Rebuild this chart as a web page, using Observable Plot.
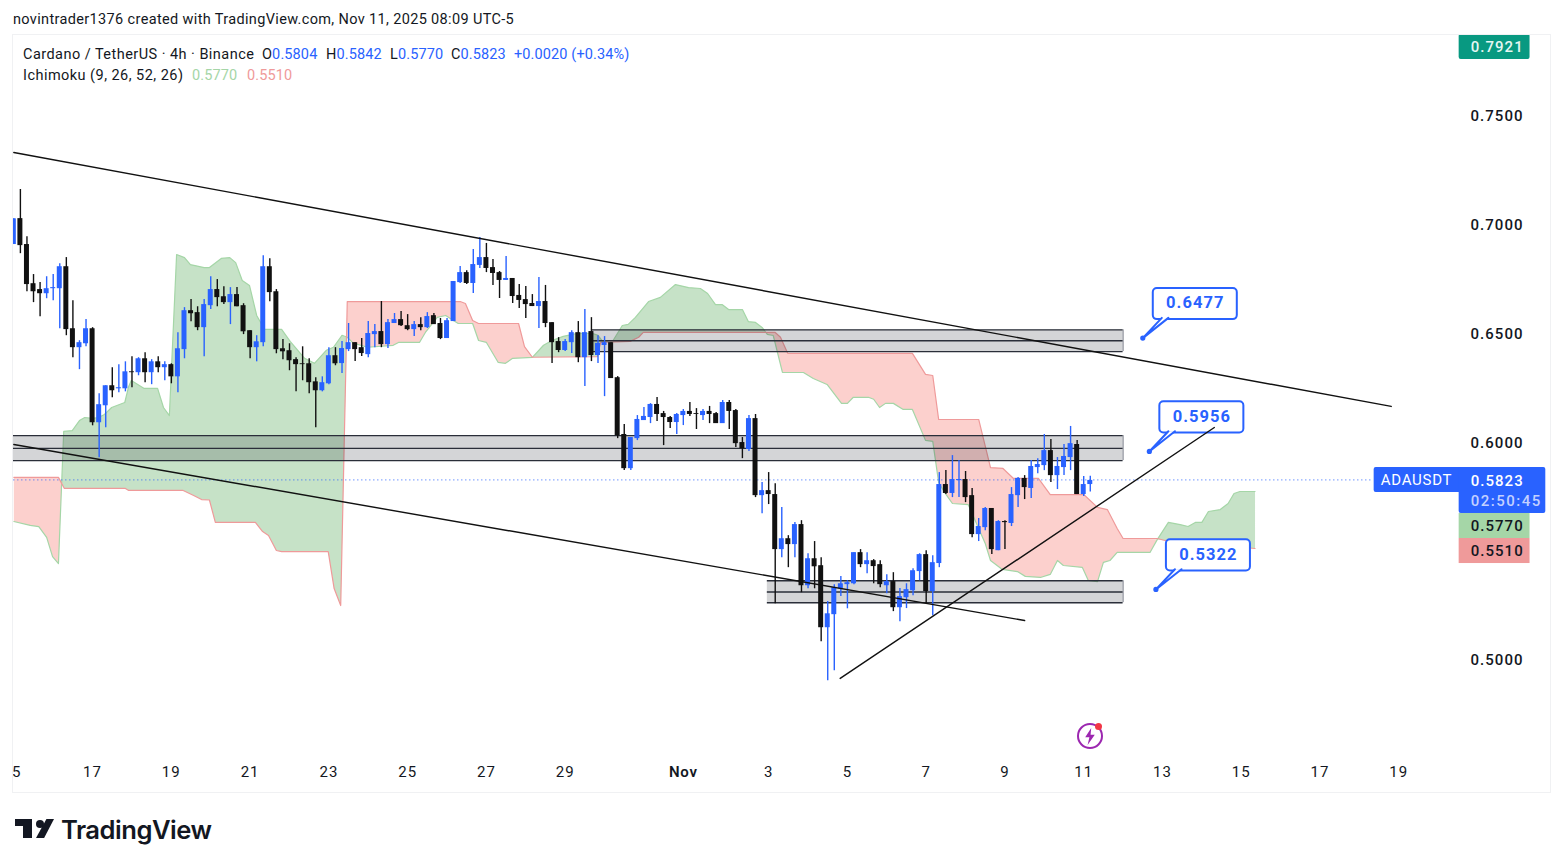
<!DOCTYPE html>
<html>
<head>
<meta charset="utf-8">
<script src="https://cdn.jsdelivr.net/npm/d3@7"></script>
<script src="https://cdn.jsdelivr.net/npm/@observablehq/plot@0.6"></script>
<style>
html,body{margin:0;padding:0;background:#fff;width:1563px;height:867px;overflow:hidden;font-family:Roboto,sans-serif;color:#131722}
#frame{position:absolute;left:12px;top:34px;width:1537px;height:757px;border:1px solid #f0f1f3}
#chart{position:absolute;left:13px;top:35px}
.t{position:absolute;white-space:nowrap;font-size:14.5px;line-height:18px;letter-spacing:.12px}
.w{letter-spacing:.46px}
.h{letter-spacing:.35px}
.b{color:#2962ff}
#logoText{position:absolute;left:61px;top:814px;font:600 25.6px/32px Inter,Roboto,sans-serif;letter-spacing:-.5px;color:#131722}
.lg{position:absolute;background:#131722}
</style>
</head>
<body>
<div id="frame"></div>
<div class="t h" style="left:13px;top:11px">novintrader1376 created with TradingView.com, Nov 11, 2025 08:09 UTC-5</div>
<div class="t w" style="left:23px;top:46px">Cardano / TetherUS · 4h · Binance</div>
<div class="t" style="left:262px;top:46px">O<span class="b">0.5804</span></div>
<div class="t" style="left:326px;top:46px">H<span class="b">0.5842</span></div>
<div class="t" style="left:390px;top:46px">L<span class="b">0.5770</span></div>
<div class="t" style="left:451px;top:46px">C<span class="b">0.5823</span></div>
<div class="t b" style="left:514px;top:46px">+0.0020 (+0.34%)</div>
<div class="t w" style="left:23px;top:67px">Ichimoku (9, 26, 52, 26)</div>
<div class="t" style="left:192px;top:67px;color:#a5d6a7">0.5770</div>
<div class="t" style="left:247px;top:67px;color:#ef9a9a">0.5510</div>
<div id="chart"></div>
<div class="lg" style="left:15px;top:819px;width:17px;height:7px"></div>
<div class="lg" style="left:23px;top:819px;width:9px;height:19px"></div>
<div class="lg" style="left:36px;top:819.5px;width:8px;height:8px;border-radius:50%"></div>
<div class="lg" style="left:36px;top:819px;width:18px;height:19px;clip-path:polygon(58% 0,100% 0,45% 100%,0 100%)"></div>
<div id="logoText">TradingView</div>
<div style="position:absolute;left:1077px;top:723px;width:22px;height:22px;border:2px solid #9c27b0;border-radius:50%"></div>
<div style="position:absolute;left:1084px;top:728px;width:12px;height:17px;background:#9c27b0;clip-path:polygon(60% 0,10% 55%,45% 55%,30% 100%,90% 40%,55% 40%)"></div>
<div style="position:absolute;left:1095px;top:723px;width:7px;height:7px;background:#f23645;border-radius:50%"></div>
<script>
const opens=[.6907,.7026,.6907,.6727,.6700,.6681,.6704,.6704,.6805,.6520,
.6433,.6451,.6520,.6088,.6166,.6258,.6244,.6244,.6322,.6318,
.6382,.6318,.6368,.6341,.6355,.6299,.6424,.6603,.6594,.6525,
.6626,.6700,.6667,.6640,.6677,.6626,.6511,.6433,.6456,.6805,
.6690,.6428,.6419,.6378,.6359,.6359,.6276,.6235,.6267,.6396,
.6360,.6424,.6456,.6433,.6401,.6493,.6507,.6447,.6544,.6562,
.6534,.6516,.6539,.6525,.6580,.6544,.6475,.6553,.6732,.6778,
.6728,.6811,.6847,.6801,.6778,.6742,.6751,.6673,.6654,.6636,
.6622,.6645,.6548,.6461,.6420,.6456,.6502,.6387,.6507,.6397,
.6443,.6456,.6295,.6034,.5877,.6015,.6098,.6112,.6172,.6130,
.6112,.6089,.6121,.6140,.6130,.6121,.6140,.6130,.6084,.6181,
.6144,.5997,.5965,.6107,.5753,.5776,.5758,.5505,.5555,.5528,
.5620,.5339,.5463,.5431,.5146,.5206,.5325,.5344,.5348,.5491,
.5436,.5454,.5436,.5339,.5358,.5238,.5284,.5316,.5404,.5482,
.5312,.5441,.5804,.5763,.5822,.5827,.5753,.5574,.5606,.5694,
.5500,.5634,.5625,.5753,.5832,.5786,.5882,.5891,.5960,.5845,
.5882,.5928,.5988,.5758,.5804];
const closes=[.7025,.6902,.6723,.6690,.6681,.6704,.6709,.6805,.6516,.6433,
.6456,.6520,.6088,.6171,.6258,.6235,.6249,.6322,.6318,.6382,
.6318,.6368,.6341,.6355,.6299,.6428,.6603,.6589,.6525,.6631,
.6700,.6663,.6640,.6677,.6621,.6506,.6433,.6460,.6805,.6686,
.6424,.6414,.6373,.6355,.6355,.6272,.6235,.6272,.6396,.6359,
.6429,.6456,.6424,.6406,.6498,.6507,.6447,.6548,.6562,.6534,
.6516,.6539,.6525,.6576,.6539,.6475,.6557,.6737,.6778,.6728,
.6815,.6847,.6797,.6774,.6742,.6751,.6668,.6650,.6631,.6622,
.6645,.6544,.6456,.6420,.6461,.6502,.6387,.6502,.6397,.6452,
.6456,.6291,.6028,.5877,.6020,.6103,.6117,.6172,.6126,.6112,
.6089,.6126,.6140,.6126,.6126,.6140,.6126,.6084,.6181,.6140,
.5992,.5969,.6107,.5753,.5776,.5758,.5505,.5555,.5528,.5620,
.5339,.5463,.5426,.5146,.5210,.5330,.5348,.5353,.5491,.5436,
.5454,.5427,.5344,.5358,.5238,.5289,.5321,.5408,.5482,.5312,
.5445,.5804,.5763,.5827,.5827,.5744,.5574,.5611,.5694,.5505,
.5634,.5629,.5758,.5832,.5790,.5887,.5896,.5960,.5845,.5887,
.5933,.5992,.5758,.5804,.5823];
const highs=[.7025,.7160,.6943,.6769,.6732,.6759,.6769,.6819,.6847,.6649,
.6465,.6562,.6525,.6221,.6258,.6341,.6355,.6368,.6391,.6387,
.6410,.6378,.6391,.6368,.6359,.6502,.6617,.6654,.6621,.6654,
.6759,.6746,.6713,.6709,.6709,.6635,.6511,.6488,.6856,.6842,
.6700,.6470,.6451,.6387,.6437,.6382,.6295,.6299,.6433,.6433,
.6461,.6544,.6456,.6475,.6553,.6539,.6645,.6562,.6590,.6599,
.6585,.6553,.6571,.6594,.6590,.6567,.6567,.6737,.6806,.6787,
.6884,.6939,.6912,.6838,.6783,.6852,.6751,.6723,.6714,.6677,
.6755,.6719,.6548,.6479,.6470,.6511,.6553,.6608,.6571,.6488,
.6484,.6456,.6300,.6080,.6020,.6121,.6158,.6176,.6204,.6140,
.6117,.6130,.6149,.6181,.6153,.6149,.6163,.6135,.6190,.6190,
.6149,.6020,.6121,.6126,.5813,.5859,.5808,.5698,.5569,.5629,
.5638,.5486,.5542,.5468,.5266,.5344,.5381,.5362,.5491,.5505,
.5491,.5459,.5454,.5390,.5399,.5326,.5348,.5417,.5486,.5500,
.5477,.5859,.5868,.5937,.5914,.5864,.5786,.5648,.5698,.5694,
.5638,.5638,.5790,.5836,.5845,.5914,.5923,.6034,.6011,.5928,
.5988,.6071,.6006,.5841,.5842];
const lows=[.6907,.6865,.6690,.6640,.6575,.6658,.6649,.6520,.6488,.6387,
.6332,.6437,.6074,.5927,.6065,.6203,.6226,.6230,.6249,.6304,
.6272,.6263,.6318,.6281,.6267,.6226,.6382,.6552,.6511,.6391,
.6608,.6621,.6631,.6539,.6621,.6493,.6382,.6368,.6437,.6644,
.6405,.6378,.6327,.6230,.6281,.6221,.6065,.6230,.6263,.6350,
.6314,.6415,.6369,.6392,.6387,.6433,.6433,.6429,.6544,.6530,
.6511,.6484,.6511,.6521,.6539,.6470,.6475,.6553,.6728,.6723,
.6682,.6797,.6778,.6719,.6659,.6742,.6636,.6613,.6567,.6622,
.6521,.6525,.6360,.6410,.6415,.6406,.6364,.6254,.6369,.6360,
.6208,.6291,.6015,.5868,.5868,.6006,.6098,.6084,.6094,.5983,
.6061,.6034,.6075,.6117,.6057,.6098,.6084,.6084,.6084,.6057,
.5974,.5923,.5956,.5744,.5670,.5712,.5256,.5468,.5422,.5468,
.5307,.5325,.5325,.5082,.4902,.4948,.5289,.5233,.5344,.5422,
.5394,.5348,.5330,.5302,.5220,.5174,.5234,.5293,.5362,.5257,
.5201,.5422,.5758,.5744,.5744,.5721,.5560,.5542,.5592,.5482,
.5500,.5505,.5611,.5698,.5735,.5740,.5854,.5868,.5813,.5781,
.5845,.5868,.5758,.5749,.5770];

const spanA=[[0,.5634],[2.5,.5616],[3.8,.5611],[5,.5561],[5.9,.5473],[6.8,.5441],[7.6,.6048],[8.9,.6052],[10,.6098],[10.8,.6112],[12,.6108],[12.9,.6112],[13.8,.6126],[14.9,.6158],[16.9,.6181],[17.5,.6255],[17.9,.6282],[19.8,.6246],[21.9,.6246],[22.8,.6158],[23.7,.6121],[24.8,.6861],[26,.6847],[26.9,.6815],[29,.6801],[29.8,.6801],[31.6,.6843],[32.9,.6847],[33.8,.6824],[34.8,.6742],[35.9,.6719],[37,.6581],[38.2,.6517],[40.8,.6517],[42.1,.6462],[44.3,.6384],[45.8,.6361],[47.6,.6421],[48.7,.6435],[50,.6490],[50.8,.6481],[51.7,.6454],[53.9,.6435],[57.8,.6444],[58.6,.6457],[61.8,.6457],[62.7,.6503],[64.5,.6572],[65.8,.6581],[66.5,.6567],[67.7,.6544],[69.9,.6544],[70.8,.6466],[72,.6457],[73.8,.6365],[74.9,.6361],[76,.6384],[79,.6388],[80.7,.6444],[82,.6466],[83.7,.6485],[85.9,.6499],[88.1,.6499],[89,.6490],[89.7,.6462],[91.3,.6466],[92.7,.6535],[93.6,.6540],[94.7,.6572],[96.7,.6645],[98.5,.6664],[100.8,.6723],[102.8,.6709],[104.6,.6705],[105.7,.6682],[106.9,.6631],[107.9,.6631],[108.9,.6608],[111,.6608],[111.9,.6553],[113,.6549],[114,.6526],[114.8,.6494],[115.7,.6489],[117.1,.6319],[117.9,.6319],[120.3,.6319],[121.8,.6291],[123.9,.6264],[126.1,.6177],[127,.6177],[127.9,.6205],[130.2,.6205],[131,.6196],[131.9,.6158],[132.8,.6177],[134,.6177],[135.5,.6149],[136.9,.6149],[138.9,.6007],[140,.6002],[140.9,.5814],[141.9,.5763],[143,.5717],[145.4,.5712],[148,.5533],[148.8,.5455],[150.6,.5414],[152.9,.5404],[154.1,.5382],[156.4,.5377],[157.9,.5391],[159,.5455],[159.9,.5432],[162.8,.5423],[163.7,.5363],[165.1,.5358],[166,.5446],[167,.5455],[168.1,.5492],[173.1,.5492],[174.2,.5551],[175.9,.5630],[177.7,.5620],[178.9,.5611],[180,.5630],[181,.5630],[182,.5680],[183.8,.5689],[185,.5717],[185.9,.5763],[186.8,.5772],[189.1,.5772]];
const spanB=[[0,.5837],[6.8,.5837],[7.7,.5786],[17,.5786],[17.5,.5777],[25.8,.5777],[27.4,.5754],[28.6,.5735],[29.8,.5733],[30.7,.5630],[36.8,.5630],[37.9,.5588],[38.8,.5570],[40,.5501],[40.8,.5496],[47.9,.5496],[48.8,.5326],[49.8,.5248],[50.8,.6645],[68,.6645],[68.8,.6636],[69.9,.6558],[70.8,.6544],[76.9,.6544],[77.8,.6438],[79,.6389],[88.9,.6392],[89.4,.6457],[93.9,.6462],[95.2,.6481],[95.9,.6503],[116,.6503],[116.8,.6481],[117.9,.6407],[136.9,.6407],[138.9,.6310],[140,.6305],[140.9,.6103],[147,.6103],[148.8,.5882],[150.7,.5878],[152.3,.5832],[156.1,.5832],[157.9,.5758],[163,.5758],[165.1,.5699],[166.6,.5689],[168.1,.5602],[169,.5556],[174.2,.5556],[175.4,.5547],[189.1,.5510]];
const cloudCrossings=[[0,null],[7.3,.5815],[50.7,.6480],[79,.6389],[114.6,.6503],[174.2,.5553],[189.1,null]];
const cloudColors=["#f44336","#43a047","#f44336","#43a047","#f44336","#43a047"];

const zones=[
  {from:-1,to:169,top:.6029,mid:.5970,bottom:.5914},
  {from:88,to:169,top:.6515,mid:.6465,bottom:.6415},
  {from:114.8,to:169,top:.5362,mid:.5310,bottom:.5261}
];
const trendLines=[
  [[0,.7330],[209.85,.6163]],
  [[0,.5988],[154,.5179]],
  [[125.9,.4913],[182.9,.6066]]
];
const callouts=[{t:172,v:.6477},{t:173,v:.5956},{t:174,v:.5322}];
const priceTicks=[.50,.60,.65,.70,.75];
const timeTicks=[0.45,12,24,36,48,60,72,84,102,115,127,139,151,163,175,187,199,211];
const timeLabels=["5","17","19","21","23","25","27","29","Nov","3","5","7","9","11","13","15","17","19"];
const lastPrice=.5823;

const BLUE="#2962ff",INK="#131722",CANDLE_INK="#111111",FONT="Roboto, sans-serif";
const candles=opens.map((o,i)=>({i,o,c:closes[i],h:highs[i],l:lows[i],col:closes[i]>=o?BLUE:CANDLE_INK}));

function regionPolygon(k){
  const [lo,loP]=cloudCrossings[k],[hi,hiP]=cloudCrossings[k+1];
  const a=spanA.filter(d=>d[0]>lo&&d[0]<hi||(k===0&&d[0]===lo)||(hi===189.1&&d[0]===hi));
  const b=spanB.filter(d=>d[0]>lo&&d[0]<hi||(k===0&&d[0]===lo)||(hi===189.1&&d[0]===hi));
  const pts=[];
  if(loP!==null)pts.push([lo,loP]);
  pts.push(...a);
  if(hiP!==null)pts.push([hi,hiP]);
  pts.push(...b.slice().reverse());
  return pts;
}
const px=d=>d[0],py=d=>d[1];
const tag=(x1,x2,y1,y2,fill,rx)=>Plot.rect([{}],{x1:()=>x1,x2:()=>x2,y1:()=>y1,y2:()=>y2,fill,rx:rx||0});
const label=(text,x,y,o)=>Plot.text([text],{x:()=>x,y:()=>y,text:d=>d,lineAnchor:"middle",fontSize:15,fontWeight:500,...o});

const chart=Plot.plot({
  width:1537,height:757,
  marginLeft:0,marginRight:92,marginTop:0,marginBottom:40,
  style:{fontFamily:FONT,fontSize:"15px",color:INK,background:"transparent",overflow:"hidden"},
  x:{type:"linear",domain:[-0.05,220.1]},
  y:{type:"linear",domain:[.45726,.78676]},
  marks:[
    ...cloudColors.map((c,k)=>Plot.line(regionPolygon(k),{x:px,y:py,fill:c,fillOpacity:c==="#43a047"?.3:.25,stroke:"none",clip:true})),
    Plot.line(spanA,{x:px,y:py,stroke:"#a5d6a7",strokeWidth:1.2,clip:true}),
    Plot.line(spanB,{x:px,y:py,stroke:"#ef9a9a",strokeWidth:1.2,clip:true}),
    Plot.rect(zones,{x1:"from",x2:"to",y1:"bottom",y2:"top",fill:"#2a2e39",fillOpacity:.2,clip:true}),
    Plot.ruleX(zones,{x:"to",y1:"bottom",y2:"top",stroke:"#787b86",strokeWidth:1}),
    ...["top","mid","bottom"].map(k=>Plot.ruleY(zones,{y:k,x1:"from",x2:"to",stroke:"#2a2e39",strokeWidth:1.4,clip:true})),
    Plot.ruleY([lastPrice],{stroke:BLUE,strokeWidth:1,strokeDasharray:"1 3",x1:()=>0,x2:()=>207,dy:-.5}),
    Plot.ruleX(candles,{x:"i",y1:"l",y2:"h",stroke:"col",strokeWidth:1.4,clip:true}),
    Plot.rect(candles,{x1:d=>d.i-.38,x2:d=>d.i+.38,y1:"o",y2:"c",fill:"col",clip:true}),
    Plot.axisY(priceTicks,{anchor:"right",tickSize:0,tickPadding:12,tickFormat:d3.format(".4f"),label:null,fontSize:15,fontWeight:500,dy:1}),
    Plot.axisX(timeTicks,{anchor:"bottom",tickSize:0,tickPadding:14,label:null,fontSize:15,tickFormat:(d,i)=>timeLabels[i]}),
    // price scale tags
    tag(207.25,220.9,.5882,.5767,BLUE,2),
    tag(220.2,233.4,.5882,.5671,BLUE,2),
    tag(220.2,231,.5671,.5556,"#a5d6a7"),
    tag(220.2,231,.5556,.5441,"#ef9a9a"),
    tag(220.2,231,.7872,.7757,"#089981",2),
    label("ADAUSDT",213.7,.5823,{fill:"#fff",textAnchor:"middle",fontWeight:400}),
    label("0.5823",221.95,.5818,{fill:"#fff",textAnchor:"start"}),
    label("02:50:45",221.95,.5726,{fill:"#c3d0ff",textAnchor:"start"}),
    label("0.5770",221.95,.5611,{fill:INK,textAnchor:"start"}),
    label("0.5510",221.95,.5496,{fill:INK,textAnchor:"start"}),
    label("0.7921",221.95,.7815,{fill:"#e6f7f3",textAnchor:"start"}),
    // callouts
    Plot.rect(callouts,{x1:d=>d.t+1.6,x2:d=>d.t+14.4,y1:d=>d.v+.0085,y2:d=>d.v+.0228,fill:"#fff",stroke:BLUE,strokeWidth:2,rx:4}),
    ...callouts.map(c=>Plot.line([[c.t+2.9,c.v+.0093],[c.t,c.v],[c.t+3.9,c.v+.0093]],{x:px,y:py,fill:"#fff",stroke:BLUE,strokeWidth:2})),
    Plot.dot(callouts,{x:"t",y:"v",r:2.6,fill:BLUE}),
    Plot.text(callouts,{x:d=>d.t+8,y:d=>d.v+.0161,text:d=>d.v.toFixed(4),fill:BLUE,fontSize:16.5,fontWeight:700,lineAnchor:"middle",textAnchor:"middle"}),
    ...trendLines.map(l=>Plot.line(l,{x:px,y:py,stroke:"#111",strokeWidth:1.4,clip:true}))
  ]
});
d3.select(chart).selectAll("text").style("letter-spacing","1.05px");
d3.select(chart).selectAll("text").filter(function(){return this.textContent==="Nov"}).style("font-weight",600).style("letter-spacing","0.7px");
d3.select(chart).selectAll("text").filter(function(){return this.textContent==="ADAUSDT"}).style("letter-spacing","0.7px");
d3.select(chart).selectAll("text").filter(function(){return this.textContent==="02:50:45"}).style("letter-spacing","1.5px");
document.getElementById("chart").appendChild(chart);
</script>
</body>
</html>
